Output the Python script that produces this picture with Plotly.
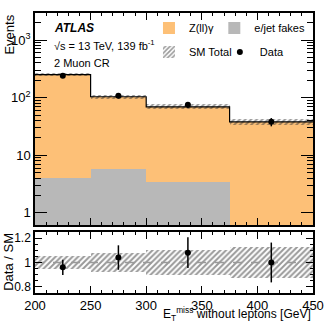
import plotly.graph_objs as go

# binning in ETmiss [GeV]
bin_edges = [200, 250, 300, 375, 450]
bin_centers = [225, 275, 337.5, 412.5]
bin_widths = [50, 50, 75, 75]

zllg = [247, 98, 66, 38]
fakes = [4.0, 5.8, 3.4, 0.0]
data = [241, 108, 75, 38]
data_err = [15.5, 10.4, 8.7, 6.2]
sm_rel_unc = [0.055, 0.08, 0.10, 0.13]

total = [a + b for a, b in zip(zllg, fakes)]
ratio = [d / t for d, t in zip(data, total)]
ratio_err = [e / t for e, t in zip(data_err, total)]

FONT = "Liberation Sans, Arial, sans-serif"
ORANGE = "#fdc077"
GREY = "#b8b8b8"
hatch = dict(shape="/", fgcolor="#333333", bgcolor="rgba(0,0,0,0)", size=4, solidity=0.5)

fig = go.Figure()

# main panel (xaxis2 / yaxis2)
fig.add_trace(go.Bar(x=bin_centers, y=total, width=bin_widths, marker_color=ORANGE,
                     marker_line_width=0, name="Z(ll)γ", xaxis="x2", yaxis="y2", legend="legend"))
fig.add_trace(go.Bar(x=bin_centers, y=fakes, width=bin_widths, marker_color=GREY,
                     marker_line_width=0, name="e/jet fakes", xaxis="x2", yaxis="y2", legend="legend2"))
fig.add_trace(go.Scatter(x=bin_edges, y=total + [total[-1]], mode="lines", line_shape="hv",
                         line=dict(color="black", width=1.2), showlegend=False, xaxis="x2", yaxis="y2"))
fig.add_trace(go.Bar(x=bin_centers, base=[t * (1 - u) for t, u in zip(total, sm_rel_unc)],
                     y=[2 * t * u for t, u in zip(total, sm_rel_unc)], width=bin_widths,
                     marker=dict(color="rgba(0,0,0,0)", line_width=0, pattern=hatch),
                     name="SM Total", xaxis="x2", yaxis="y2", legend="legend3"))
fig.add_trace(go.Scatter(x=bin_centers, y=data, mode="markers", name="Data",
                         marker=dict(color="black", size=6),
                         error_y=dict(type="data", array=data_err, color="black", thickness=1.5, width=0),
                         xaxis="x2", yaxis="y2", legend="legend4"))

# ratio panel
fig.add_trace(go.Bar(x=bin_centers, base=[1 - u for u in sm_rel_unc], y=[2 * u for u in sm_rel_unc],
                     width=bin_widths, marker=dict(color="rgba(0,0,0,0)", line_width=0, pattern=hatch),
                     showlegend=False, xaxis="x", yaxis="y"))
fig.add_trace(go.Scatter(x=[bin_edges[0], bin_edges[-1]], y=[1, 1], mode="lines",
                         line=dict(color="#999999", width=1.5, dash="dash"), showlegend=False,
                         xaxis="x", yaxis="y"))
fig.add_trace(go.Scatter(x=bin_centers, y=ratio, mode="markers", showlegend=False,
                         marker=dict(color="black", size=6),
                         error_y=dict(type="data", array=ratio_err, color="black", thickness=1.5, width=0),
                         xaxis="x", yaxis="y"))

axis_common = dict(showline=True, linecolor="black", linewidth=1.5, mirror="allticks",
                   ticks="inside", tickcolor="black", showgrid=False, zeroline=False,
                   automargin=False, tickfont=dict(family=FONT, size=13, color="black"))

minor_log = [m * 10 ** k for k in range(0, 4) for m in range(2, 10)]


def leg(x, y):
    return dict(x=x, y=y, xanchor="left", yanchor="middle", bgcolor="rgba(0,0,0,0)",
                font=dict(family=FONT, size=11), itemwidth=30, borderwidth=0)


fig.update_layout(
    width=327, height=327,
    margin=dict(l=35, r=14, t=13, b=34),
    paper_bgcolor="white", plot_bgcolor="white",
    barmode="overlay", bargap=0,
    font=dict(family=FONT, color="black"),
    xaxis=dict(axis_common, domain=[0, 1], range=[200, 450], anchor="y", dtick=50, ticklen=7,
               minor=dict(ticks="inside", dtick=10, ticklen=3, tickcolor="black")),
    yaxis=dict(axis_common, domain=[0, 0.218], range=[0.75, 1.25], anchor="x",
               tickvals=[0.8, 1, 1.2], ticktext=["0.8", "1", "1.2"], ticklen=7,
               tickfont=dict(family=FONT, size=12, color="black"),
               minor=dict(ticks="inside", dtick=0.05, ticklen=3, tickcolor="black")),
    xaxis2=dict(axis_common, domain=[0, 1], range=[200, 450], anchor="y2", matches="x",
                dtick=50, ticklen=7, showticklabels=False,
                minor=dict(ticks="inside", dtick=10, ticklen=3, tickcolor="black")),
    yaxis2=dict(axis_common, domain=[0.243, 1], type="log", range=[-0.21, 3.47], anchor="x2",
                tickvals=[1, 10, 100, 1000], ticktext=["1", "10", "10<sup>2</sup>", "10<sup>3</sup>"],
                ticklen=12,
                minor=dict(ticks="inside", tickvals=minor_log, ticklen=6, tickcolor="black")),
    legend=leg(0.41, 0.946),
    legend2=leg(0.645, 0.946),
    legend3=leg(0.41, 0.861),
    legend4=leg(0.665, 0.861),
    annotations=[
        dict(text="<b><i>ATLAS</i></b>", x=0.06, y=0.946, xref="paper", yref="paper",
             xanchor="left", yanchor="middle", showarrow=False, font=dict(size=12)),
        dict(text="√s = 13 TeV, 139 fb<sup>-1</sup>", x=0.06, y=0.884, xref="paper", yref="paper",
             xanchor="left", yanchor="middle", showarrow=False, font=dict(size=11)),
        dict(text="2 Muon CR", x=0.06, y=0.82, xref="paper", yref="paper",
             xanchor="left", yanchor="middle", showarrow=False, font=dict(size=11)),
        dict(text="Events", textangle=-90, x=-0.095, y=1.0, xref="paper", yref="paper",
             xanchor="center", yanchor="top", showarrow=False, font=dict(size=13)),
        dict(text="Data / SM", textangle=-90, x=-0.095, y=0.11, xref="paper", yref="paper",
             xanchor="center", yanchor="middle", showarrow=False, font=dict(size=13)),
        dict(text="E<sub>T</sub><sup>miss</sup> without leptons [GeV]", x=1.0, y=-0.114,
             xref="paper", yref="paper", xanchor="right", yanchor="bottom", showarrow=False,
             font=dict(size=12)),
    ],
)

# drop the default 8px page margin so the figure sits at the window's corner
fig.write_html("out.html", config={"displayModeBar": False},
               post_script="document.body.style.margin='0';")
